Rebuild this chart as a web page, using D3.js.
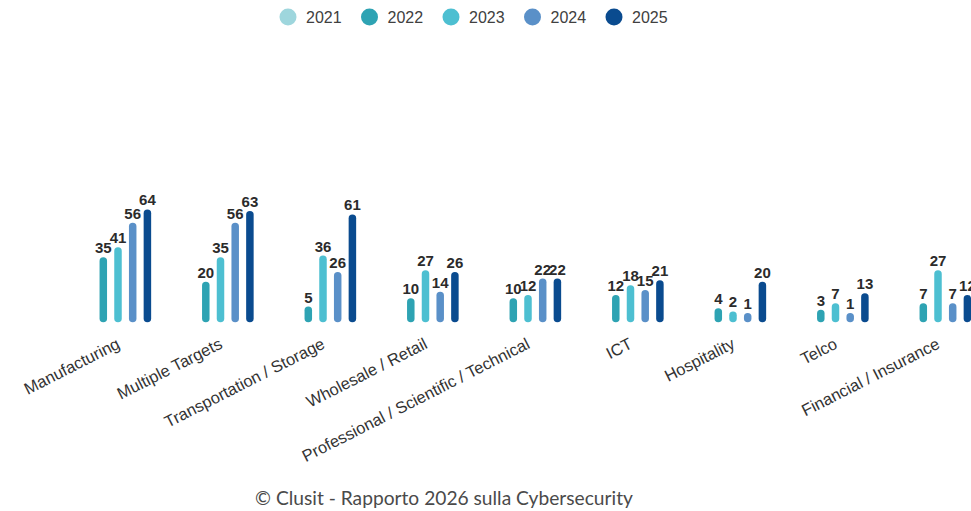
<!DOCTYPE html>
<html>
<head>
<meta charset="utf-8">
<script src="https://cdn.jsdelivr.net/npm/d3@7/dist/d3.min.js"></script>
<style>
  html, body { margin: 0; padding: 0; background: #ffffff; }
  svg { display: block; }
</style>
</head>
<body>
<svg id="chart" width="971" height="511"></svg>
<script>
// ---- Data ----
const categories = [
  "Manufacturing", "Multiple Targets", "Transportation / Storage",
  "Wholesale / Retail", "Professional / Scientific / Technical",
  "ICT", "Hospitality", "Telco", "Financial / Insurance"
];
const years = ["2021", "2022", "2023", "2024", "2025"];
const values2021 = [null, null, null, null, null, null, null, null, null];
const values2022 = [35, 20, 5, 10, 10, 12, 4, 3, 7];
const values2023 = [41, 35, 36, 27, 12, 18, 2, 7, 27];
const values2024 = [56, 56, 26, 14, 22, 15, 1, 1, 7];
const values2025 = [64, 63, 61, 26, 22, 21, 20, 13, 12];
const seriesValues = [values2021, values2022, values2023, values2024, values2025];
const colors = ["#9ed6dd", "#2ea3b3", "#4dbfd1", "#5a90c8", "#0a4b8f"];
const footerText = "\u00A9 Clusit - Rapporto 2026 sulla Cybersecurity";

// ---- Layout ----
const svg = d3.select("#chart");
const baseY = 318.5;
const pxPerUnit = 1.645;
const yMax = 70;

const x0 = d3.scaleBand().domain(categories).range([66.75, 66.75 + 102.5 * categories.length]).padding(0);
const x1 = d3.scaleBand().domain(years).range([-36.75, 36.75]).padding(0);
const y = d3.scaleLinear().domain([0, yMax]).range([baseY, baseY - yMax * pxPerUnit]);
const color = d3.scaleOrdinal().domain(years).range(colors);

const barW = 7.5;

// ---- Bars ----
const flat = [];
categories.forEach((c, i) => {
  years.forEach((yr, j) => {
    const v = seriesValues[j][i];
    if (v !== null && v !== undefined) flat.push({ cat: c, year: yr, value: v });
  });
});

const cx = d => x0(d.cat) + x0.bandwidth() / 2 + x1(d.year) + x1.bandwidth() / 2;

svg.append("g").selectAll("line")
  .data(flat).join("line")
  .attr("x1", cx).attr("x2", cx)
  .attr("y1", y(0)).attr("y2", d => y(d.value))
  .attr("stroke", d => color(d.year))
  .attr("stroke-width", barW)
  .attr("stroke-linecap", "round");

// ---- Value labels ----
svg.append("g").selectAll("text")
  .data(flat).join("text")
  .attr("x", cx)
  .attr("y", d => y(d.value) - barW / 2 - 4)
  .attr("text-anchor", "middle")
  .attr("font-family", "'Liberation Sans', Arial, sans-serif")
  .attr("font-weight", "bold")
  .attr("font-size", 15)
  .attr("fill", "#2b2b2b")
  .text(d => d.value);

// ---- Category labels ----
svg.append("g").selectAll("text")
  .data(categories).join("text")
  .attr("transform", c => `translate(${x0(c) + x0.bandwidth() / 2 + 3},${baseY + 29}) rotate(-27)`)
  .attr("text-anchor", "end")
  .attr("font-family", "'Liberation Sans', Arial, sans-serif")
  .attr("font-size", 16.5)
  .attr("fill", "#333333")
  .text(c => c);

// ---- Legend ----
const legend = svg.append("g").selectAll("g")
  .data(years).join("g")
  .attr("transform", (d, i) => `translate(${288 + i * 81.5},17)`);
legend.append("circle").attr("r", 8.5).attr("fill", d => color(d));
legend.append("text")
  .attr("x", 18).attr("y", 5.8)
  .attr("font-family", "'Liberation Sans', Arial, sans-serif")
  .attr("font-size", 16)
  .attr("fill", "#404040")
  .text(d => d);

// ---- Footer ----
svg.append("text")
  .attr("x", 444).attr("y", 505)
  .attr("text-anchor", "middle")
  .attr("font-family", "Lato, 'Noto Sans', sans-serif")
  .attr("font-size", 19.2)
  .attr("fill", "#4a4a4a")
  .text(footerText);
</script>
</body>
</html>
